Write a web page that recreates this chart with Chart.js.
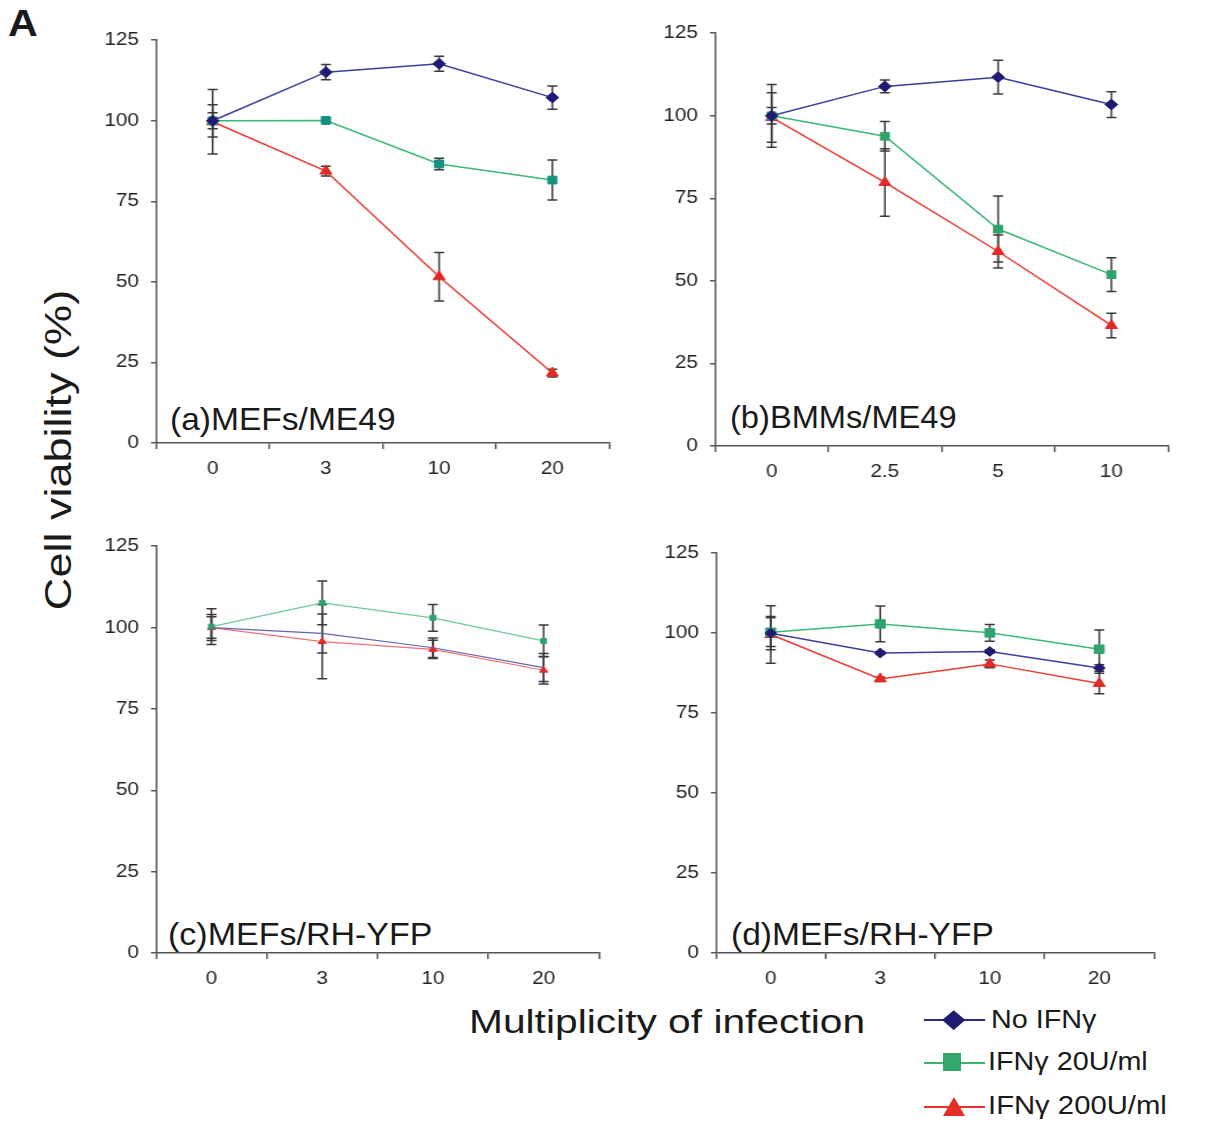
<!DOCTYPE html>
<html><head><meta charset="utf-8">
<script src="https://cdn.jsdelivr.net/npm/chart.js@4.4.1/dist/chart.umd.min.js"></script>
<style>
html,body{margin:0;padding:0;background:#fff;width:1221px;height:1125px;overflow:hidden;font-family:'Liberation Sans',Arial,sans-serif;}
canvas{position:absolute;}
.t{position:absolute;white-space:nowrap;line-height:1;color:#1a1a1a;transform-origin:0 0;font-family:'Liberation Sans',Arial,sans-serif;}
.lg-line{position:absolute;height:2px;}
</style></head><body>
<div class="t" style="left:8px;top:5px;font-size:37.5px;font-weight:bold;transform:scaleX(1.1);">A</div>
<div class="t" style="left:58.4px;top:450px;font-size:37px;transform-origin:50% 50%;transform:translate(-50%,-50%) rotate(-90deg) scaleX(1.217);">Cell viability (%)</div>
<div class="t" style="left:469px;top:1006px;font-size:32.6px;transform:scaleX(1.25);">Multiplicity of infection</div>
<div class="t" style="left:169.5px;top:404px;font-size:30.5px;transform:scaleX(1.1);">(a)MEFs/ME49</div>
<div class="t" style="left:729.5px;top:402px;font-size:30.5px;transform:scaleX(1.07);">(b)BMMs/ME49</div>
<div class="t" style="left:168px;top:919.3px;font-size:30.5px;transform:scaleX(1.115);">(c)MEFs/RH-YFP</div>
<div class="t" style="left:731px;top:919px;font-size:30.5px;transform:scaleX(1.1);">(d)MEFs/RH-YFP</div>

<!-- legend -->
<div class="lg-line" style="left:924px;top:1019px;width:61px;background:#2e2a8a;"></div>
<div style="position:absolute;left:944px;top:1010.5px;width:20px;height:19px;transform:scaleX(1.18);">
  <div style="position:absolute;left:3.2px;top:2.7px;width:13.5px;height:13.5px;background:#1f1b73;transform:rotate(45deg);"></div>
</div>
<div class="lg-line" style="left:924px;top:1061.7px;width:61px;background:#3cb371;"></div>
<div style="position:absolute;left:943px;top:1053px;width:18px;height:18px;background:#33a66b;"></div>
<div class="lg-line" style="left:924px;top:1105.7px;width:61px;background:#e8312a;"></div>
<div style="position:absolute;left:943px;top:1097px;width:0;height:0;border-left:11px solid transparent;border-right:11px solid transparent;border-bottom:19px solid #e32d26;"></div>
<div class="t" id="lg0" style="left:990.5px;top:1006.7px;font-size:25px;transform:scaleX(1.15);"></div>
<div class="t" id="lg1" style="left:987.7px;top:1048.5px;font-size:25px;transform:scaleX(1.15);"></div>
<div class="t" id="lg2" style="left:987.7px;top:1092.7px;font-size:25px;transform:scaleX(1.17);"></div>

<script>
// ---------------- data ----------------
const seriesNames = ['No IFNγ', 'IFNγ 20U/ml', 'IFNγ 200U/ml'];
const yTickMin = 0;
const yTickMax = 125;
const yTickStep = 25;

const catsA = ['0', '3', '10', '20'];
const catsB = ['0', '2.5', '5', '10'];
const catsC = ['0', '3', '10', '20'];
const catsD = ['0', '3', '10', '20'];

// (a) MEFs/ME49
const aNo = [100, 115.1, 117.7, 107.2];
const aNoErr = [5, 2.4, 2.3, 3.6];
const a20 = [100, 100.1, 86.6, 81.6];
const a20Err = [2.5, 0.5, 1.8, 6.2];
const a200 = [99.7, 84.4, 51.6, 21.7];
const a200Err = [10, 1.5, 7.5, 1.2];

// (b) BMMs/ME49
const bNo = [100, 108.9, 111.7, 103.4];
const bNoErr = [9.5, 1.9, 5.1, 3.9];
const b20 = [100, 93.8, 65.7, 51.9];
const b20Err = [2.5, 4.5, 10, 5.1];
const b200 = [99.5, 79.8, 58.9, 36.5];
const b200Err = [7.5, 10.2, 5, 3.7];

// (c) MEFs/RH-YFP
const cNo = [100, 98.2, 93.8, 87.7];
const cNoErr = [4, 6, 3, 4.3];
const c20 = [100.3, 107.6, 103, 95.9];
const c20Err = [5.5, 6.7, 4.1, 4.9];
const c200 = [100, 95.7, 93.3, 86.9];
const c200Err = [3.3, 11.4, 2.8, 4.2];

// (d) MEFs/RH-YFP
const dNo = [100, 93.8, 94.3, 89.1];
const dNoErr = [5.2, 0.5, 0.5, 1];
const d20 = [100.3, 102.9, 100.1, 95.0];
const d20Err = [4.5, 5.6, 2.6, 6];
const d200 = [99.6, 85.7, 90.4, 84.3];
const d200Err = [9, 0.5, 1.2, 3.2];

// ---------------- rendering ----------------
document.getElementById('lg0').textContent = seriesNames[0];
document.getElementById('lg1').textContent = seriesNames[1];
document.getElementById('lg2').textContent = seriesNames[2];

const S = 1.15; // horizontal stretch of the reference figure
const FONT = "'Liberation Sans', Arial, sans-serif";

const errorBarPlugin = {
  id: 'errbars',
  beforeDatasetsDraw(chart, args, opts) {
    const ctx = chart.ctx;
    const ys = chart.scales.y;
    ctx.save();
    ctx.strokeStyle = opts.color || '#333';
    ctx.lineWidth = opts.width || 1.5;
    const cap = opts.cap || 4;
    chart.data.datasets.forEach((ds, i) => {
      const meta = chart.getDatasetMeta(i);
      if (!ds.errors) return;
      meta.data.forEach((pt, j) => {
        const v = ds.data[j], e = ds.errors[j];
        const yt = ys.getPixelForValue(v + e), yb = ys.getPixelForValue(v - e);
        const x = pt.x;
        ctx.beginPath();
        ctx.moveTo(x, yt); ctx.lineTo(x, yb);
        ctx.moveTo(x - cap, yt); ctx.lineTo(x + cap, yt);
        ctx.moveTo(x - cap, yb); ctx.lineTo(x + cap, yb);
        ctx.stroke();
      });
    });
    ctx.restore();
  }
};

function ds(label, data, errors, line, fill, style, r, lw) {
  return {
    label, data, errors,
    borderColor: line, backgroundColor: fill,
    pointBackgroundColor: fill, pointBorderColor: fill,
    pointStyle: style, pointRadius: r, pointHoverRadius: r,
    pointBorderWidth: 1, borderWidth: lw, tension: 0, fill: false
  };
}

function makePanel(geo, labels, datasets) {
  const cssW0 = geo.xEnd - geo.axisX + 76;
  const iw = Math.round(cssW0 / S);
  const cssW = iw * S;
  const h = Math.round(geo.botY - geo.topY + 65);
  const cv = document.createElement('canvas');
  cv.width = iw; cv.height = h;
  cv.style.left = (geo.axisX - 66) + 'px';
  cv.style.top = (geo.topY - 20) + 'px';
  cv.style.width = cssW + 'px';
  cv.style.height = h + 'px';
  document.body.appendChild(cv);
  const axisCol = '#555';
  new Chart(cv.getContext('2d'), {
    type: 'line',
    data: { labels, datasets },
    plugins: [errorBarPlugin],
    options: {
      responsive: false, animation: false, events: [],
      devicePixelRatio: 1,
      layout: { padding: { top: 20, right: 10 / S, left: 0, bottom: 0 } },
      plugins: {
        legend: { display: false }, tooltip: { enabled: false },
        errbars: { color: '#3a3a3a', width: 1.5, cap: 5 / S }
      },
      scales: {
        x: {
          type: 'category', offset: true,
          grid: { offset: true, drawOnChartArea: false, drawTicks: true, tickLength: 6, color: axisCol, lineWidth: 1.5 },
          border: { display: true, color: axisCol, width: 1.5 },
          ticks: { font: { size: 18, family: FONT }, color: '#222', padding: 9, maxRotation: 0, autoSkip: false },
          afterFit: (s) => { s.height = 45; }
        },
        y: {
          min: yTickMin, max: yTickMax,
          grid: { drawOnChartArea: false, drawTicks: true, tickLength: 5 / S, color: axisCol, lineWidth: 1.5 },
          border: { display: true, color: axisCol, width: 1.5 },
          ticks: { stepSize: yTickStep, font: { size: 18, family: FONT }, color: '#222', padding: 12 / S },
          afterFit: (s) => { s.width = 66 / S; }
        }
      }
    }
  });
}

const BLUE_L = '#3d3d9e', BLUE_M = '#1f1b73';
const GREEN_L = '#3cb878', GREEN_M = '#2fa36b', TEAL_M = '#14907f';
const RED_L = '#ee3a32', RED_M = '#e02a24';

makePanel({ axisX: 156, xEnd: 609, topY: 39, botY: 443 }, catsA, [
  ds(seriesNames[0], aNo, aNoErr, BLUE_L, BLUE_M, 'rectRot', 5.5, 1.5),
  ds(seriesNames[1], a20, a20Err, GREEN_L, TEAL_M, 'rect', 5.5, 1.5),
  ds(seriesNames[2], a200, a200Err, RED_L, RED_M, 'triangle', 6, 1.5)
]);
makePanel({ axisX: 715, xEnd: 1168, topY: 31.7, botY: 446 }, catsB, [
  ds(seriesNames[0], bNo, bNoErr, BLUE_L, BLUE_M, 'rectRot', 5.5, 1.5),
  ds(seriesNames[1], b20, b20Err, GREEN_L, GREEN_M, 'rect', 5.5, 1.5),
  ds(seriesNames[2], b200, b200Err, RED_L, RED_M, 'triangle', 6, 1.5)
]);
makePanel({ axisX: 156, xEnd: 599, topY: 545, botY: 952.7 }, catsC, [
  ds(seriesNames[0], cNo, cNoErr, '#6464ac', BLUE_M, 'rectRot', 0, 1.2),
  ds(seriesNames[1], c20, c20Err, '#6cc99a', GREEN_M, 'rect', 3.5, 1.2),
  ds(seriesNames[2], c200, c200Err, '#f07070', RED_M, 'triangle', 4, 1.2)
]);
makePanel({ axisX: 716, xEnd: 1154, topY: 551.7, botY: 952.7 }, catsD, [
  ds(seriesNames[0], dNo, dNoErr, BLUE_L, BLUE_M, 'rectRot', 5, 1.5),
  ds(seriesNames[1], d20, d20Err, GREEN_L, GREEN_M, 'rect', 6, 1.5),
  ds(seriesNames[2], d200, d200Err, RED_L, RED_M, 'triangle', 6, 1.5)
]);
</script>
</body></html>
